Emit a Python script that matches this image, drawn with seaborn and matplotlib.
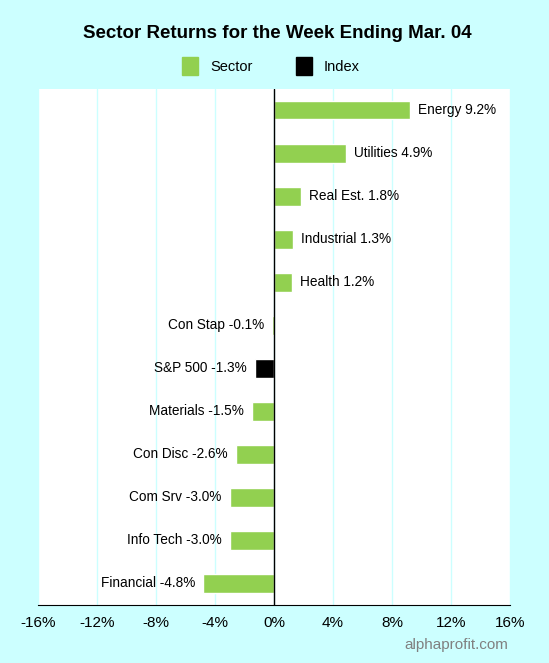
import pandas as pd
import numpy as np
import seaborn as sns
import matplotlib.pyplot as plt
from matplotlib.patches import Patch

# Sector returns, week ending Mar. 04
sectors = ["Energy", "Utilities", "Real Est.", "Industrial", "Health", "Con Stap",
           "S&P 500", "Materials", "Con Disc", "Com Srv", "Info Tech", "Financial"]
returns = [9.2, 4.9, 1.8, 1.3, 1.2, -0.1, -1.3, -1.5, -2.6, -3.0, -3.0, -4.8]
kinds = ["Sector"] * 6 + ["Index"] + ["Sector"] * 5
xticks = [-16, -12, -8, -4, 0, 4, 8, 12, 16]

df = pd.DataFrame({"name": sectors, "ret": returns, "kind": kinds})

sns.set_style("white")
plt.rcParams["font.family"] = ["Liberation Sans", "DejaVu Sans"]
plt.rcParams["text.color"] = "black"
plt.rcParams["xtick.color"] = "black"

bg = "#ccffff"
colors = {"Sector": "#92d050", "Index": "#000000"}

fig = plt.figure(figsize=(5.49, 6.63), dpi=100, facecolor=bg)
ax = fig.add_axes([0.069, 0.0875, 0.86, 0.779])

sns.barplot(data=df, x="ret", y="name", hue="kind", palette=colors, orient="h",
            dodge=False, width=0.44, saturation=1, legend=False, ax=ax)

ax.set_xlim(-16, 16)
ax.set_xticks(xticks)
ax.set_xticklabels([f"{t}%" for t in xticks], fontsize=11)
ax.set_yticks([])
ax.set_xlabel("")
ax.set_ylabel("")
ax.grid(axis="x", color=bg, linewidth=1)
ax.set_axisbelow(True)
ax.axvline(0, color="black", linewidth=1)

for s in ["top", "right", "left"]:
    ax.spines[s].set_visible(False)
ax.spines["bottom"].set_color("black")
ax.tick_params(axis="x", direction="out", length=5, color="black", pad=3)

# labels at the end of each bar
for i, (n, r) in enumerate(zip(sectors, returns)):
    txt = f"{n} {r:.1f}%"
    if r >= 0:
        ax.text(r + 0.55, i, txt, va="center", ha="left", fontsize=9.8)
    else:
        ax.text(r - 0.55, i, txt, va="center", ha="right", fontsize=9.8)

fig.suptitle("Sector Returns for the Week Ending Mar. 04", x=0.506, y=0.962,
             fontsize=13.5, fontweight="bold")

handles = [Patch(color=colors["Sector"]), Patch(color=colors["Index"])]
fig.legend(handles, ["Sector", "Index"], loc="center", bbox_to_anchor=(0.494, 0.9),
           ncol=2, frameon=False, fontsize=10.5, handlelength=1.1, handleheight=1.5,
           columnspacing=3.0, handletextpad=0.8)

fig.text(0.925, 0.027, "alphaprofit.com", ha="right", va="center",
         fontsize=11, color="#808080")

fig.savefig("out.png", dpi=100, facecolor=bg)
